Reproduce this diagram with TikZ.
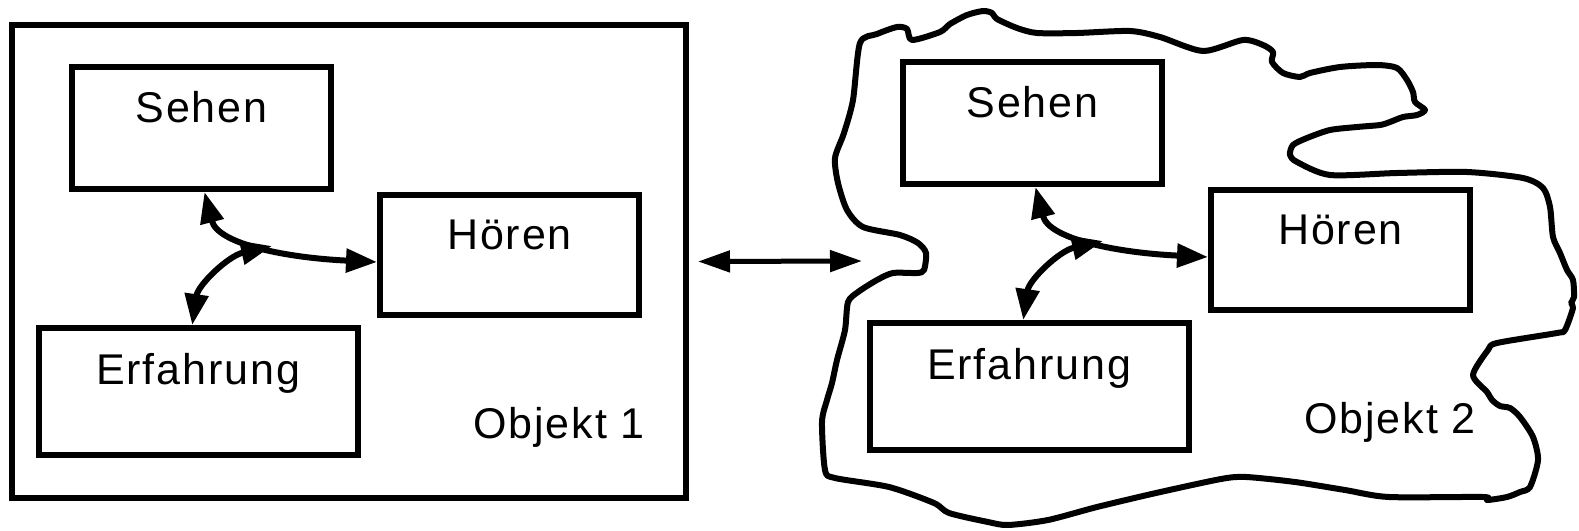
\documentclass[tikz,border=0pt]{standalone}
\usepackage{fontspec}
\setmainfont{Liberation Sans}
\newfontfamily\lblfont[LetterSpace=4.5]{Liberation Sans}
\usetikzlibrary{arrows.meta}
\tikzset{
  box/.style={draw, line width=6pt, inner sep=0pt, outer sep=3pt},
  frame/.style={draw, line width=6pt, inner sep=0pt, outer sep=0pt},
  lbl/.style={font=\lblfont\fontsize{43}{50}\selectfont, inner sep=0pt, anchor=base},
  conn/.style={line width=6pt, arrows={Triangle[length=31pt,width=23pt]-Triangle[length=31pt,width=23pt]}},
  midarrow/.style={line width=5pt, arrows={Triangle[length=32pt,width=21pt]-Triangle[length=32pt,width=21pt]}},
  blob/.style={line width=6pt, line join=round},
}
\newcommand{\wahrnehmung}[1]{%
  \node[box, minimum width=259pt, minimum height=122pt] (sehen#1) at (201.5,128) {};
  \node[lbl] (sehentext#1) at ([yshift=-58pt]sehen#1.north) {Sehen};
  \node[box, minimum width=259pt, minimum height=120pt] (hoeren#1) at (509.5,255) {};
  \node[lbl] (hoerentext#1) at ([yshift=-57pt]hoeren#1.north) {Hören};
  \node[box, minimum width=319.5pt, minimum height=127pt] (erfahrung#1) at (198.25,391.5) {};
  \node[lbl] (erfahrungtext#1) at ([yshift=-59pt]erfahrung#1.north) {Erfahrung};
  \node[lbl, anchor=base east] (objekt#1) at (645,438) {Objekt #1};
  \coordinate (j#1) at (272,246);
  \draw[conn] ([xshift=3pt]sehen#1.south) .. controls (218,245) and (290,258) .. ([yshift=-7pt]hoeren#1.west);
  \draw[conn] ([xshift=-6pt]erfahrung#1.north) .. controls (198,285) and (228,256) .. (j#1);
}
\begin{document}
\begin{tikzpicture}[x=1pt,y=-1pt]
\useasboundingbox (0,0) rectangle (1579,530);
% left object
\node[frame, minimum width=673.5pt, minimum height=473pt] (rahmen1) at (348.75,261.5) {};
\wahrnehmung{1}
% right object
\begin{scope}[shift={(831,-5)}]
\wahrnehmung{2}
\end{scope}
\draw[blob] plot[smooth cycle, tension=0.45] coordinates {
(860,43) (877,34) (897,27) (907,29) (912,40) (940,32) (950,24) (967,15) (983,11) (992,13) (997,19)
(1017,28) (1037,33) (1077,33) (1130,31) (1160,37) (1203,51) (1243,40) (1263,45) (1273,52) (1272,62)
(1283,73) (1300,77) (1310,73) (1340,67) (1377,65) (1397,68) (1407,80) (1413,92) (1415,102) (1425,110)
(1417,115) (1403,117) (1390,122) (1380,125) (1357,127) (1330,130) (1307,138) (1293,145) (1290,155)
(1297,162) (1330,175) (1397,173) (1467,172) (1523,178) (1543,188) (1550,207) (1553,237) (1560,253)
(1567,270) (1573,280) (1574,297) (1571,303) (1573,308) (1565,330) (1557,333) (1497,343) (1488,350)
(1473,375) (1487,392) (1492,400) (1500,406) (1510,408) (1520,417) (1533,437) (1538,460) (1530,487)
(1520,492) (1507,497) (1487,500) (1483,497) (1389,497) (1345,490) (1295,482) (1246,477) (1221,479)
(1156,493) (1097,507) (1048,520) (1008,525) (988,522) (949,513) (934,503) (889,487) (835,478)
(825,470) (822,422) (827,400) (832,383) (837,360) (845,330) (848,302) (858,292) (877,280) (893,273)
(917,273) (924,270) (926,253) (918,243) (900,235) (863,227) (847,210) (838,183) (835,158) (844,133)
(853,100)};
% connection between the objects
\coordinate (m2) at (862,261);
\draw[midarrow] ([xshift=12.5pt]rahmen1.east) -- (m2);
\end{tikzpicture}
\end{document}
